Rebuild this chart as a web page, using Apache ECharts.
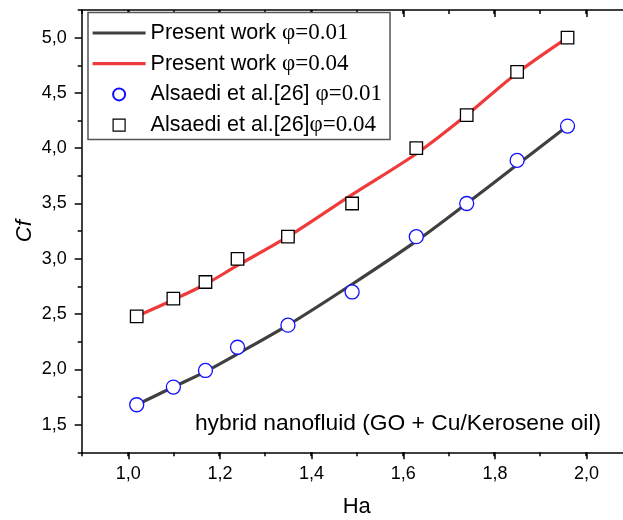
<!DOCTYPE html>
<html><head><meta charset="utf-8">
<script src="https://cdn.jsdelivr.net/npm/echarts@6/dist/echarts.min.js"></script>
<style>html,body{margin:0;padding:0;background:#fff}#c{width:623px;height:520px}</style>
</head><body><div id="c"></div>
<script>
// ---- data ----
const haValues = [1.02, 1.10, 1.17, 1.24, 1.35, 1.49, 1.63, 1.74, 1.85, 1.96];
const presentPhi001 = [1.68, 1.84, 1.98, 2.14, 2.40, 2.77, 3.16, 3.50, 3.85, 4.20];
const presentPhi004 = [2.48, 2.63, 2.77, 2.94, 3.20, 3.58, 3.95, 4.30, 4.68, 5.00];
const alsaediPhi001 = [1.68, 1.84, 1.99, 2.20, 2.40, 2.70, 3.20, 3.50, 3.89, 4.20];
const alsaediPhi004 = [2.48, 2.64, 2.79, 3.00, 3.20, 3.50, 4.00, 4.30, 4.69, 5.00];
const seriesNames = ['Present work φ=0.01', 'Present work φ=0.04', 'Alsaedi et al.[26] φ=0.01', 'Alsaedi et al.[26]φ=0.04'];
const xTickLabels = ['1,0', '1,2', '1,4', '1,6', '1,8', '2,0'];
const yTickLabels = ['1,5', '2,0', '2,5', '3,0', '3,5', '4,0', '4,5', '5,0'];
const annotation = 'hybrid nanofluid (GO + Cu/Kerosene oil)';

const pairs = (xs, ys) => xs.map((x, i) => [x, ys[i]]);
const SANS = '"Liberation Sans", Arial, Helvetica, sans-serif';
const SERIF = '"Liberation Serif", "Times New Roman", serif';
const tickStyle = {color: '#000', width: 1.5};
const lineAxis = {show: true, lineStyle: {color: '#000', width: 1.5}};
const hidden = {color: 'rgba(0,0,0,0)', borderColor: 'rgba(0,0,0,0)', borderWidth: 0};

const chart = echarts.init(document.getElementById('c'), null, {renderer: 'canvas'});
chart.setOption({
  animation: false,
  backgroundColor: '#fff',
  grid: [
    {left: 81.7, top: 10, width: 550, height: 442.3, outerBoundsMode: 'none'},
    {left: 128.3, top: 37.64, width: 458.3, height: 387.0, outerBoundsMode: 'none'}
  ],
  xAxis: [
    {gridIndex: 0, type: 'value', min: 0.9, max: 2.1, interval: 0.1, position: 'bottom',
     axisLine: lineAxis, axisTick: {show: true, length: 4, lineStyle: tickStyle},
     axisLabel: {show: false}, splitLine: {show: false},
     name: 'Ha', nameLocation: 'middle', nameGap: 44,
     nameTextStyle: {fontFamily: SANS, fontSize: 22, color: '#000'}},
    {gridIndex: 0, type: 'value', min: 0.9, max: 2.1, interval: 0.1, position: 'top',
     axisLine: lineAxis, axisTick: {show: true, inside: true, length: 4, lineStyle: tickStyle},
     axisLabel: {show: false}, splitLine: {show: false}},
    {gridIndex: 1, type: 'value', min: 1.0, max: 2.0, interval: 0.2, position: 'bottom', offset: 27.66,
     axisLine: {show: false}, axisTick: {show: true, length: 7, lineStyle: tickStyle},
     axisLabel: {show: true, margin: 13, fontFamily: SANS, fontSize: 18, color: '#000',
       formatter: (v) => xTickLabels[Math.round((v - 1.0) / 0.2)] || ''},
     splitLine: {show: false}},
    {gridIndex: 1, type: 'value', min: 1.0, max: 2.0, interval: 0.2, position: 'top', offset: 27.64,
     axisLine: {show: false}, axisTick: {show: true, inside: true, length: 7, lineStyle: tickStyle},
     axisLabel: {show: false}, splitLine: {show: false}}
  ],
  yAxis: [
    {gridIndex: 0, type: 'value', min: 1.25, max: 5.25, interval: 0.25, position: 'left',
     axisLine: lineAxis, axisTick: {show: true, length: 4, lineStyle: tickStyle},
     axisLabel: {show: false}, splitLine: {show: false},
     name: 'Cf', nameLocation: 'middle', nameGap: 46, nameRotate: 90,
     nameTextStyle: {fontFamily: SANS, fontSize: 22, fontStyle: 'italic', color: '#000'}},
    {gridIndex: 1, type: 'value', min: 1.5, max: 5.0, interval: 0.5, position: 'left', offset: 46.6,
     axisLine: {show: false}, axisTick: {show: true, length: 7, lineStyle: tickStyle},
     axisLabel: {show: true, margin: 15, fontFamily: SANS, fontSize: 18, color: '#000',
       formatter: (v) => yTickLabels[Math.round((v - 1.5) / 0.5)] || ''},
     splitLine: {show: false}}
  ],
  legend: {
    orient: 'vertical', left: 88, top: 12.5,
    padding: [9, 8, 3, 3], itemWidth: 53, itemHeight: 12, itemGap: 7.7,
    borderColor: '#555', borderWidth: 1.5, backgroundColor: '#fff',
    selectedMode: false,
    data: [
      {name: seriesNames[0], itemStyle: hidden, lineStyle: {width: 3.2, color: '#404040'}},
      {name: seriesNames[1], itemStyle: hidden, lineStyle: {width: 3.2, color: '#ef3b3b'}},
      {name: seriesNames[2]},
      {name: seriesNames[3], icon: 'path://M0,0H10V10H0Z', itemStyle: {color: '#fff', borderColor: '#000', borderWidth: 1.2}}
    ],
    formatter: (name) => {
      const i = name.indexOf('φ');
      return '{a|' + name.slice(0, i) + '}{b|' + name.slice(i) + '}';
    },
    textStyle: {
      rich: {
        a: {fontFamily: SANS, fontSize: 21.5, color: '#000', lineHeight: 24},
        b: {fontFamily: SERIF, fontSize: 23, color: '#000', lineHeight: 24}
      }
    }
  },
  graphic: [
    {type: 'text', x: 398, y: 424, z: 10,
     style: {text: annotation, fontFamily: SANS, fontSize: 22.8, fill: '#000', align: 'center', verticalAlign: 'middle'}}
  ],
  series: [
    {type: 'line', name: seriesNames[0], xAxisIndex: 0, yAxisIndex: 0, data: pairs(haValues, presentPhi001),
     symbol: 'none', showSymbol: false, smooth: 0.3, lineStyle: {color: '#404040', width: 3.2},
     itemStyle: {color: '#404040'}, emphasis: {disabled: true}, z: 2},
    {type: 'line', name: seriesNames[1], xAxisIndex: 0, yAxisIndex: 0, data: pairs(haValues, presentPhi004),
     symbol: 'none', showSymbol: false, smooth: 0.3, lineStyle: {color: '#ef3b3b', width: 3.2},
     itemStyle: {color: '#ef3b3b'}, emphasis: {disabled: true}, z: 2},
    {type: 'scatter', name: seriesNames[2], xAxisIndex: 0, yAxisIndex: 0, data: pairs(haValues, alsaediPhi001),
     symbol: 'circle', symbolSize: 14,
     itemStyle: {color: '#fff', borderColor: '#1010ff', borderWidth: 1.3, opacity: 1},
     emphasis: {disabled: true}, z: 3},
    {type: 'scatter', name: seriesNames[3], xAxisIndex: 0, yAxisIndex: 0, data: pairs(haValues, alsaediPhi004),
     symbol: 'rect', symbolSize: 12.5,
     itemStyle: {color: '#fff', borderColor: '#000', borderWidth: 1.3, opacity: 1},
     emphasis: {disabled: true}, z: 3}
  ]
});
</script>
</body></html>
